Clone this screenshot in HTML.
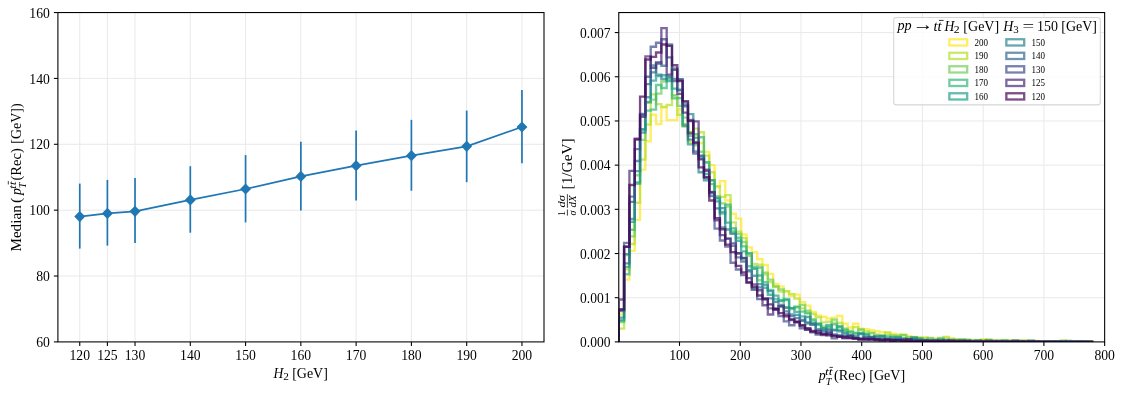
<!DOCTYPE html>
<html lang="en">
<head>
<meta charset="utf-8">
<title>Median pT and pT distributions</title>
<style>
html, body { margin: 0; padding: 0; background: #fff; }
body { width: 1123px; height: 393px; overflow: hidden; font-family: "Liberation Serif", "DejaVu Serif", serif; }
svg text { white-space: pre; }
</style>
</head>
<body>
<svg width="1123" height="393" viewBox="0 0 1123 393" font-family='"Liberation Serif", "DejaVu Serif", serif' fill="#000" style="display:block">
<g id="left-plot">
<line x1="79.75" y1="12.55" x2="79.75" y2="341.9" stroke="#e9e9e9" stroke-width="1"/>
<line x1="107.39" y1="12.55" x2="107.39" y2="341.9" stroke="#e9e9e9" stroke-width="1"/>
<line x1="135.03" y1="12.55" x2="135.03" y2="341.9" stroke="#e9e9e9" stroke-width="1"/>
<line x1="190.3" y1="12.55" x2="190.3" y2="341.9" stroke="#e9e9e9" stroke-width="1"/>
<line x1="245.57" y1="12.55" x2="245.57" y2="341.9" stroke="#e9e9e9" stroke-width="1"/>
<line x1="300.85" y1="12.55" x2="300.85" y2="341.9" stroke="#e9e9e9" stroke-width="1"/>
<line x1="356.12" y1="12.55" x2="356.12" y2="341.9" stroke="#e9e9e9" stroke-width="1"/>
<line x1="411.4" y1="12.55" x2="411.4" y2="341.9" stroke="#e9e9e9" stroke-width="1"/>
<line x1="466.68" y1="12.55" x2="466.68" y2="341.9" stroke="#e9e9e9" stroke-width="1"/>
<line x1="521.95" y1="12.55" x2="521.95" y2="341.9" stroke="#e9e9e9" stroke-width="1"/>
<line x1="57.9" y1="276.03" x2="544" y2="276.03" stroke="#e9e9e9" stroke-width="1"/>
<line x1="57.9" y1="210.16" x2="544" y2="210.16" stroke="#e9e9e9" stroke-width="1"/>
<line x1="57.9" y1="144.29" x2="544" y2="144.29" stroke="#e9e9e9" stroke-width="1"/>
<line x1="57.9" y1="78.42" x2="544" y2="78.42" stroke="#e9e9e9" stroke-width="1"/>
<line x1="79.75" y1="183.6" x2="79.75" y2="248.6" stroke="#1f77b4" stroke-width="1.7"/>
<line x1="107.39" y1="179.9" x2="107.39" y2="245.6" stroke="#1f77b4" stroke-width="1.7"/>
<line x1="135.03" y1="178.1" x2="135.03" y2="243.1" stroke="#1f77b4" stroke-width="1.7"/>
<line x1="190.3" y1="166.2" x2="190.3" y2="232.7" stroke="#1f77b4" stroke-width="1.7"/>
<line x1="245.57" y1="155.1" x2="245.57" y2="222.4" stroke="#1f77b4" stroke-width="1.7"/>
<line x1="300.85" y1="141.8" x2="300.85" y2="210.5" stroke="#1f77b4" stroke-width="1.7"/>
<line x1="356.12" y1="130.5" x2="356.12" y2="200.5" stroke="#1f77b4" stroke-width="1.7"/>
<line x1="411.4" y1="119.85" x2="411.4" y2="190.75" stroke="#1f77b4" stroke-width="1.7"/>
<line x1="466.68" y1="110.6" x2="466.68" y2="182.2" stroke="#1f77b4" stroke-width="1.7"/>
<line x1="521.95" y1="89.9" x2="521.95" y2="163.3" stroke="#1f77b4" stroke-width="1.7"/>
<polyline fill="none" stroke="#1f77b4" stroke-width="1.75" stroke-linejoin="round" points="79.75,216.6 107.39,213.4 135.03,211.3 190.3,199.9 245.57,189 300.85,176.4 356.12,165.7 411.4,155.65 466.68,146.3 521.95,127"/>
<path d="M79.75 211L85.24 216.6L79.75 222.2L74.26 216.6Z" fill="#1f77b4"/>
<path d="M107.39 207.8L112.88 213.4L107.39 219L101.9 213.4Z" fill="#1f77b4"/>
<path d="M135.03 205.7L140.51 211.3L135.03 216.9L129.54 211.3Z" fill="#1f77b4"/>
<path d="M190.3 194.3L195.79 199.9L190.3 205.5L184.81 199.9Z" fill="#1f77b4"/>
<path d="M245.57 183.4L251.06 189L245.57 194.6L240.09 189Z" fill="#1f77b4"/>
<path d="M300.85 170.8L306.34 176.4L300.85 182L295.36 176.4Z" fill="#1f77b4"/>
<path d="M356.12 160.1L361.61 165.7L356.12 171.3L350.64 165.7Z" fill="#1f77b4"/>
<path d="M411.4 150.05L416.89 155.65L411.4 161.25L405.91 155.65Z" fill="#1f77b4"/>
<path d="M466.68 140.7L472.16 146.3L466.68 151.9L461.19 146.3Z" fill="#1f77b4"/>
<path d="M521.95 121.4L527.44 127L521.95 132.6L516.46 127Z" fill="#1f77b4"/>
<rect x="57.9" y="12.55" width="486.1" height="329.35" fill="none" stroke="#000" stroke-width="1.08"/>
<line x1="79.75" y1="341.9" x2="79.75" y2="345.9" stroke="#000" stroke-width="1.08"/>
<text x="79.75" y="359.8" font-size="14.6" text-anchor="middle" textLength="20.5" lengthAdjust="spacingAndGlyphs">120</text>
<line x1="107.39" y1="341.9" x2="107.39" y2="345.9" stroke="#000" stroke-width="1.08"/>
<text x="107.39" y="359.8" font-size="14.6" text-anchor="middle" textLength="20.5" lengthAdjust="spacingAndGlyphs">125</text>
<line x1="135.03" y1="341.9" x2="135.03" y2="345.9" stroke="#000" stroke-width="1.08"/>
<text x="135.03" y="359.8" font-size="14.6" text-anchor="middle" textLength="20.5" lengthAdjust="spacingAndGlyphs">130</text>
<line x1="190.3" y1="341.9" x2="190.3" y2="345.9" stroke="#000" stroke-width="1.08"/>
<text x="190.3" y="359.8" font-size="14.6" text-anchor="middle" textLength="20.5" lengthAdjust="spacingAndGlyphs">140</text>
<line x1="245.57" y1="341.9" x2="245.57" y2="345.9" stroke="#000" stroke-width="1.08"/>
<text x="245.57" y="359.8" font-size="14.6" text-anchor="middle" textLength="20.5" lengthAdjust="spacingAndGlyphs">150</text>
<line x1="300.85" y1="341.9" x2="300.85" y2="345.9" stroke="#000" stroke-width="1.08"/>
<text x="300.85" y="359.8" font-size="14.6" text-anchor="middle" textLength="20.5" lengthAdjust="spacingAndGlyphs">160</text>
<line x1="356.12" y1="341.9" x2="356.12" y2="345.9" stroke="#000" stroke-width="1.08"/>
<text x="356.12" y="359.8" font-size="14.6" text-anchor="middle" textLength="20.5" lengthAdjust="spacingAndGlyphs">170</text>
<line x1="411.4" y1="341.9" x2="411.4" y2="345.9" stroke="#000" stroke-width="1.08"/>
<text x="411.4" y="359.8" font-size="14.6" text-anchor="middle" textLength="20.5" lengthAdjust="spacingAndGlyphs">180</text>
<line x1="466.68" y1="341.9" x2="466.68" y2="345.9" stroke="#000" stroke-width="1.08"/>
<text x="466.68" y="359.8" font-size="14.6" text-anchor="middle" textLength="20.5" lengthAdjust="spacingAndGlyphs">190</text>
<line x1="521.95" y1="341.9" x2="521.95" y2="345.9" stroke="#000" stroke-width="1.08"/>
<text x="521.95" y="359.8" font-size="14.6" text-anchor="middle" textLength="20.5" lengthAdjust="spacingAndGlyphs">200</text>
<line x1="57.9" y1="341.9" x2="53.9" y2="341.9" stroke="#000" stroke-width="1.08"/>
<text x="49.85" y="347.1" font-size="14.6" text-anchor="end" textLength="13.7" lengthAdjust="spacingAndGlyphs">60</text>
<line x1="57.9" y1="276.03" x2="53.9" y2="276.03" stroke="#000" stroke-width="1.08"/>
<text x="49.85" y="281.23" font-size="14.6" text-anchor="end" textLength="13.7" lengthAdjust="spacingAndGlyphs">80</text>
<line x1="57.9" y1="210.16" x2="53.9" y2="210.16" stroke="#000" stroke-width="1.08"/>
<text x="49.85" y="215.36" font-size="14.6" text-anchor="end" textLength="20.5" lengthAdjust="spacingAndGlyphs">100</text>
<line x1="57.9" y1="144.29" x2="53.9" y2="144.29" stroke="#000" stroke-width="1.08"/>
<text x="49.85" y="149.49" font-size="14.6" text-anchor="end" textLength="20.5" lengthAdjust="spacingAndGlyphs">120</text>
<line x1="57.9" y1="78.42" x2="53.9" y2="78.42" stroke="#000" stroke-width="1.08"/>
<text x="49.85" y="83.62" font-size="14.6" text-anchor="end" textLength="20.5" lengthAdjust="spacingAndGlyphs">140</text>
<line x1="57.9" y1="12.55" x2="53.9" y2="12.55" stroke="#000" stroke-width="1.08"/>
<text x="49.85" y="17.75" font-size="14.6" text-anchor="end" textLength="20.5" lengthAdjust="spacingAndGlyphs">160</text>
<text x="273.55" y="377.9" font-size="14.6" font-style="italic" textLength="9.84" lengthAdjust="spacingAndGlyphs">H</text>
<text x="283.21" y="380.2" font-size="9.9" textLength="5.61" lengthAdjust="spacingAndGlyphs">2</text>
<text x="292.16" y="377.9" font-size="14.6" textLength="35.67" lengthAdjust="spacingAndGlyphs">[GeV]</text>
<g transform="translate(20.9 251.15) rotate(-90)">
<text x="-0.44" y="0" font-size="14.6" textLength="46.32" lengthAdjust="spacingAndGlyphs">Median</text>
<text x="48.2" y="0" font-size="14.6" textLength="5.32" lengthAdjust="spacingAndGlyphs">(</text>
<text x="56.05" y="0" font-size="14.6" font-style="italic" textLength="6.81" lengthAdjust="spacingAndGlyphs">p</text>
<text x="62.26" y="-4.7" font-size="10.4" font-style="italic" textLength="7.47" lengthAdjust="spacingAndGlyphs">tt</text>
<line x1="66.7" y1="-12.6" x2="70.1" y2="-12.6" stroke="#000" stroke-width="0.75"/>
<text x="62.92" y="4.8" font-size="9.5" font-style="italic" textLength="5.77" lengthAdjust="spacingAndGlyphs">T</text>
<text x="70.66" y="0" font-size="14.6" textLength="32.28" lengthAdjust="spacingAndGlyphs">(Rec)</text>
<text x="107.52" y="0" font-size="14.6" textLength="40.2" lengthAdjust="spacingAndGlyphs">[GeV])</text>
</g>
</g>
<g id="right-plot">
<line x1="679.5" y1="12.55" x2="679.5" y2="341.9" stroke="#e9e9e9" stroke-width="1"/>
<line x1="740.24" y1="12.55" x2="740.24" y2="341.9" stroke="#e9e9e9" stroke-width="1"/>
<line x1="800.97" y1="12.55" x2="800.97" y2="341.9" stroke="#e9e9e9" stroke-width="1"/>
<line x1="861.71" y1="12.55" x2="861.71" y2="341.9" stroke="#e9e9e9" stroke-width="1"/>
<line x1="922.44" y1="12.55" x2="922.44" y2="341.9" stroke="#e9e9e9" stroke-width="1"/>
<line x1="983.18" y1="12.55" x2="983.18" y2="341.9" stroke="#e9e9e9" stroke-width="1"/>
<line x1="1043.91" y1="12.55" x2="1043.91" y2="341.9" stroke="#e9e9e9" stroke-width="1"/>
<line x1="618.77" y1="297.71" x2="1104.65" y2="297.71" stroke="#e9e9e9" stroke-width="1"/>
<line x1="618.77" y1="253.52" x2="1104.65" y2="253.52" stroke="#e9e9e9" stroke-width="1"/>
<line x1="618.77" y1="209.33" x2="1104.65" y2="209.33" stroke="#e9e9e9" stroke-width="1"/>
<line x1="618.77" y1="165.14" x2="1104.65" y2="165.14" stroke="#e9e9e9" stroke-width="1"/>
<line x1="618.77" y1="120.95" x2="1104.65" y2="120.95" stroke="#e9e9e9" stroke-width="1"/>
<line x1="618.77" y1="76.76" x2="1104.65" y2="76.76" stroke="#e9e9e9" stroke-width="1"/>
<line x1="618.77" y1="32.57" x2="1104.65" y2="32.57" stroke="#e9e9e9" stroke-width="1"/>
<clipPath id="c2"><rect x="618.77" y="12.55" width="485.88" height="329.35"/></clipPath>
<g clip-path="url(#c2)" fill="none" stroke-width="2.35" stroke-opacity="0.7" stroke-linejoin="miter">
<path stroke="#fde725" d="M618.77 341.9V314.5H624.09V279.59H629.42V250.87H634.74V219.94H640.06V169.56H645.38V141.28H650.71V114.76H656.03V124.04H661.35V107.69H666.68V120.07H672V120.07H677.32V109.46H682.64V124.04H687.97V132H693.29V136.42H698.61V143.04H703.94V151.88H709.26V165.14H714.58V187.23H719.9V181.05H725.23V200.49H730.55V213.75H735.87V218.61H741.2V234.52H746.52V247.33H751.84V252.19H757.16V259.26H762.49V265.01H767.81V273.85H773.13V284.01H778.46V286.66H783.78V291.52H789.1V295.94H794.42V294.62H799.75V302.13H805.07V305.66H810.39V311.85H815.72V315.39H821.04V316.71H826.36V318.48H831.68V317.6H837.01V315.83H842.33V323.78H847.65V327.54H852.98V323.78H858.3V328.64H863.62V329.08H868.94V330.19H874.27V331.29H879.59V332.18H884.91V333.06H890.23V333.72H895.56V334.39H900.88V335.27H906.2V336.16H911.53V337.04H916.85V337.48H922.17V337.92H927.49V338.14H932.82V338.36H938.14V338.59H943.46V338.14H948.79V338.14H954.11V339.25H959.43V339.47H964.75V339.69H970.08V339.91H975.4V340.13H980.72V339.25H986.05V339.91H991.37V340.35H996.69V340.46H1002.01V340.56H1007.34V340.66H1012.66V340.74H1017.98V340.82H1023.31V340.9H1028.63V340.97H1033.95V341.03H1039.27V341.1H1044.6V341.15H1049.92V341.2H1055.24V341.25H1060.57V341.3H1065.89V341.34H1071.21V341.38H1076.53V341.42H1081.86V341.45H1087.18V341.48H1092.5V341.9"/>
<path stroke="#b5de2b" d="M618.77 341.9V328.64H624.09V269.23H629.42V244.02H634.74V202.79H640.06V159.49H645.38V124.49H650.71V94.44H656.03V104.16H661.35V106.81H666.68V105.04H672V96.2H677.32V114.7H682.64V126.27H687.97V142.29H693.29V128.64H698.61V132.2H703.94V155.64H709.26V172.25H714.58V186.19H719.9V196.86H725.23V195.19H730.55V222.37H735.87V231.56H741.2V238.09H746.52V253.81H751.84V263.89H757.16V264.78H762.49V274.57H767.81V281.99H773.13V286.73H778.46V291.48H783.78V291.18H789.1V294.15H794.42V298.6H799.75V308.38H805.07V312.83H810.39V314.02H815.72V317.28H821.04V322.32H826.36V321.73H831.68V322.62H837.01V322.92H842.33V330.63H847.65V330.63H852.98V327.07H858.3V329.74H863.62V331.22H868.94V333.3H874.27V335.67H879.59V335.97H884.91V332.41H890.23V335.97H895.56V336.56H900.88V334.78H906.2V337.15H911.53V337.15H916.85V337.75H922.17V337.75H927.49V341.01H932.82V340.42H938.14V339.23H943.46V336.86H948.79V340.42H954.11V339.23H959.43V339.23H964.75V341.01H970.08V341.31H975.4V341.01H980.72V340.12H986.05V339.53H991.37V340.71H996.69V340.42H1002.01V340.12H1007.34V340.42H1012.66V341.01H1017.98V340.42H1023.31V340.71H1028.63V341.31H1033.95V341.6H1039.27V341.6H1044.6V341.9H1049.92V341.6H1055.24V341.31H1060.57V340.42H1065.89V341.9H1071.21V341.9H1076.53V341.9H1081.86V341.6H1087.18V341.9H1092.5V341.9"/>
<path stroke="#6ece58" d="M618.77 341.9V322.01H624.09V255H629.42V236.31H634.74V175.21H640.06V139.92H645.38V102.54H650.71V99.58H656.03V93.65H661.35V81.49H666.68V77.33H672V95.13H677.32V105.81H682.64V117.67H687.97V132.2H693.29V145.25H698.61V151.78H703.94V162.16H709.26V180.25H714.58V196.27H719.9V203.39H725.23V206.65H730.55V231.27H735.87V233.94H741.2V241.95H746.52V255.89H751.84V268.05H757.16V280.21H762.49V272.79H767.81V279.61H773.13V286.44H778.46V289.4H783.78V307.2H789.1V308.98H794.42V306.31H799.75V304.83H805.07V310.76H810.39V319.06H815.72V323.51H821.04V326.48H826.36V328.55H831.68V319.66H837.01V326.77H842.33V328.55H847.65V331.52H852.98V333H858.3V329.44H863.62V333.3H868.94V332.71H874.27V334.78H879.59V335.08H884.91V335.37H890.23V335.37H895.56V335.67H900.88V335.08H906.2V337.45H911.53V339.23H916.85V338.34H922.17V339.82H927.49V338.04H932.82V339.23H938.14V338.04H943.46V340.42H948.79V339.53H954.11V340.42H959.43V339.82H964.75V341.01H970.08V340.12H975.4V340.71H980.72V341.6H986.05V340.12H991.37V341.01H996.69V341.9H1002.01V340.42H1007.34V341.31H1012.66V341.01H1017.98V341.01H1023.31V341.01H1028.63V341.31H1033.95V341.31H1039.27V341.31H1044.6V341.6H1049.92V341.9H1055.24V341.31H1060.57V341.31H1065.89V341.6H1071.21V341.6H1076.53V341.6H1081.86V341.6H1087.18V341.9H1092.5V341.9"/>
<path stroke="#35b779" d="M618.77 341.9V321.13H624.09V274.28H629.42V229.79H634.74V183.81H640.06V129.53H645.38V110.55H650.71V109.66H656.03V85.04H661.35V88.01H666.68V79.11H672V98.39H677.32V98.1H682.64V124.49H687.97V135.76H693.29V134.28H698.61V137.25H703.94V162.46H709.26V184.11H714.58V198.64H719.9V213.47H725.23V204.57H730.55V232.75H735.87V237.79H741.2V246.39H746.52V266.27H751.84V266.56H757.16V267.45H762.49V282.28H767.81V290H773.13V299.19H778.46V300.08H783.78V298.89H789.1V308.09H794.42V307.2H799.75V311.65H805.07V313.43H810.39V320.54H815.72V324.7H821.04V328.26H826.36V327.07H831.68V324.4H837.01V329.74H842.33V330.04H847.65V332.11H852.98V333H858.3V333H863.62V334.19H868.94V337.45H874.27V336.56H879.59V336.86H884.91V336.86H890.23V338.34H895.56V336.86H900.88V338.34H906.2V339.53H911.53V338.04H916.85V338.64H922.17V339.82H927.49V340.71H932.82V340.71H938.14V339.23H943.46V340.12H948.79V340.12H954.11V341.01H959.43V340.12H964.75V339.82H970.08V341.31H975.4V340.71H980.72V341.31H986.05V341.01H991.37V341.9H996.69V341.01H1002.01V340.71H1007.34V341.9H1012.66V341.9H1017.98V341.31H1023.31V341.6H1028.63V340.42H1033.95V341.9H1039.27V341.6H1044.6V341.6H1049.92V341.6H1055.24V341.6H1060.57V341.31H1065.89V341.9H1071.21V341.9H1076.53V341.9H1081.86V341.9H1087.18V341.6H1092.5V341.9"/>
<path stroke="#1f9e89" d="M618.77 341.9V319.8H624.09V266.86H629.42V221.78H634.74V182.33H640.06V129.24H645.38V101.95H650.71V80.6H656.03V76.15H661.35V75.26H666.68V81.19H672V88.6H677.32V90.38H682.64V125.98H687.97V144.36H693.29V137.84H698.61V156.53H703.94V174.02H709.26V180.25H714.58V197.75H719.9V211.99H725.23V222.67H730.55V228.3H735.87V240.76H741.2V251.44H746.52V253.22H751.84V268.94H757.16V275.46H762.49V287.92H767.81V294.74H773.13V295.63H778.46V300.97H783.78V300.08H789.1V308.09H794.42V311.94H799.75V316.39H805.07V323.51H810.39V324.1H815.72V323.81H821.04V328.26H826.36V325.29H831.68V329.74H837.01V326.48H842.33V332.41H847.65V335.67H852.98V337.15H858.3V334.19H863.62V335.08H868.94V336.86H874.27V338.64H879.59V338.64H884.91V338.93H890.23V337.15H895.56V337.45H900.88V338.64H906.2V339.53H911.53V337.45H916.85V338.93H922.17V340.12H927.49V340.71H932.82V341.01H938.14V341.01H943.46V341.01H948.79V340.42H954.11V340.42H959.43V341.31H964.75V341.31H970.08V341.31H975.4V340.42H980.72V341.31H986.05V340.71H991.37V341.01H996.69V341.31H1002.01V341.31H1007.34V341.31H1012.66V341.01H1017.98V341.6H1023.31V341.31H1028.63V341.6H1033.95V341.9H1039.27V341.9H1044.6V341.6H1049.92V341.9H1055.24V341.9H1060.57V341.9H1065.89V341.01H1071.21V341.9H1076.53V341.6H1081.86V341.9H1087.18V341.9H1092.5V341.9"/>
<path stroke="#26828e" d="M618.77 341.9V317.6H624.09V254.11H629.42V218.81H634.74V171.06H640.06V132.5H645.38V97.21H650.71V65.47H656.03V74.55H661.35V78.97H666.68V76.76H672V68.36H677.32V89.79H682.64V102.54H687.97V114.11H693.29V141.99H698.61V172.25H703.94V180.25H709.26V191.82H714.58V201.31H719.9V208.13H725.23V229.49H730.55V233.94H735.87V253.22H741.2V257.96H746.52V270.12H751.84V275.76H757.16V284.06H762.49V284.95H767.81V291.18H773.13V308.09H778.46V306.31H783.78V307.79H789.1V314.32H794.42V314.91H799.75V320.84H805.07V316.99H810.39V323.21H815.72V329.15H821.04V330.04H826.36V334.19H831.68V330.33H837.01V331.22H842.33V333.6H847.65V334.78H852.98V335.67H858.3V333.6H863.62V338.93H868.94V339.23H874.27V336.56H879.59V336.26H884.91V339.82H890.23V339.82H895.56V340.12H900.88V339.23H906.2V341.01H911.53V338.93H916.85V340.42H922.17V340.12H927.49V341.01H932.82V340.71H938.14V340.71H943.46V340.42H948.79V341.6H954.11V340.71H959.43V340.42H964.75V341.6H970.08V341.6H975.4V341.31H980.72V341.31H986.05V341.01H991.37V341.6H996.69V341.31H1002.01V341.9H1007.34V341.6H1012.66V341.31H1017.98V341.9H1023.31V341.9H1028.63V341.9H1033.95V341.31H1039.27V341.9H1044.6V341.9H1049.92V341.6H1055.24V341.31H1060.57V341.9H1065.89V341.9H1071.21V341.9H1076.53V341.6H1081.86V341.6H1087.18V341.9H1092.5V341.9"/>
<path stroke="#31688e" d="M618.77 341.9V310.97H624.09V263.3H629.42V196.57H634.74V160.97H640.06V113.81H645.38V84.15H650.71V72.34H656.03V62.18H661.35V65.71H666.68V44.5H672V78.97H677.32V80H682.64V104.92H687.97V139.62H693.29V151.48H698.61V158.6H703.94V177.88H709.26V195.97H714.58V208.43H719.9V227.41H725.23V238.68H730.55V245.8H735.87V257.37H741.2V261.52H746.52V271.31H751.84V288.22H757.16V287.33H762.49V298.6H767.81V298.3H773.13V301.86H778.46V304.83H783.78V311.35H789.1V316.1H794.42V318.17H799.75V319.95H805.07V322.32H810.39V324.7H815.72V330.33H821.04V331.52H826.36V329.74H831.68V334.49H837.01V335.37H842.33V335.97H847.65V335.67H852.98V338.04H858.3V338.64H863.62V337.45H868.94V336.86H874.27V340.12H879.59V340.42H884.91V338.93H890.23V338.93H895.56V338.93H900.88V339.53H906.2V340.71H911.53V339.82H916.85V340.42H922.17V340.42H927.49V339.82H932.82V340.71H938.14V341.31H943.46V339.82H948.79V341.31H954.11V341.6H959.43V341.01H964.75V341.01H970.08V341.31H975.4V341.31H980.72V341.01H986.05V341.31H991.37V341.6H996.69V341.9H1002.01V341.31H1007.34V341.9H1012.66V340.71H1017.98V341.9H1023.31V341.9H1028.63V341.9H1033.95V341.9H1039.27V341.9H1044.6V341.6H1049.92V341.6H1055.24V341.9H1060.57V341.6H1065.89V341.9H1071.21V341.6H1076.53V341.6H1081.86V341.9H1087.18V341.9H1092.5V341.9"/>
<path stroke="#3e4a89" d="M618.77 341.9V310.08H624.09V242.84H629.42V201.91H634.74V149.11H640.06V115H645.38V76.76H650.71V46.71H656.03V42.73H661.35V39.2H666.68V57.32H672V81.18H677.32V79.11H682.64V106.4H687.97V120.04H693.29V153.56H698.61V155.64H703.94V169.58H709.26V193.01H714.58V228.6H719.9V240.46H725.23V246.69H730.55V262.71H735.87V269.53H741.2V275.17H746.52V282.28H751.84V289.7H757.16V299.19H762.49V299.49H767.81V308.38H773.13V309.27H778.46V316.1H783.78V321.43H789.1V325.29H794.42V322.32H799.75V328.26H805.07V329.44H810.39V332.41H815.72V334.49H821.04V335.08H826.36V331.82H831.68V338.34H837.01V336.56H842.33V338.34H847.65V338.34H852.98V338.64H858.3V338.93H863.62V337.45H868.94V338.04H874.27V339.53H879.59V339.53H884.91V340.12H890.23V339.82H895.56V339.53H900.88V340.71H906.2V341.31H911.53V341.6H916.85V341.01H922.17V341.31H927.49V341.01H932.82V340.42H938.14V341.31H943.46V341.6H948.79V340.71H954.11V341.31H959.43V341.6H964.75V341.01H970.08V341.9H975.4V341.9H980.72V341.6H986.05V341.9H991.37V341.31H996.69V341.9H1002.01V341.9H1007.34V341.9H1012.66V341.9H1017.98V341.9H1023.31V341.6H1028.63V341.9H1033.95V341.6H1039.27V341.9H1044.6V341.6H1049.92V341.9H1055.24V341.9H1060.57V341.9H1065.89V341.9H1071.21V341.9H1076.53V341.9H1081.86V341.9H1087.18V341.9H1092.5V341.9"/>
<path stroke="#482878" d="M618.77 341.9V299.48H624.09V246.45H629.42V170.88H634.74V138.63H640.06V116.78H645.38V56.43H650.71V67.92H656.03V63.5H661.35V28.15H666.68V74.55H672V69.92H677.32V93.94H682.64V112.63H687.97V133.32H693.29V121.39H698.61V159.4H703.94V170.76H709.26V192.12H714.58V220.29H719.9V235.12H725.23V238.68H730.55V243.43H735.87V253.22H741.2V258.26H746.52V278.13H751.84V284.36H757.16V290.29H762.49V305.22H767.81V314.5H773.13V309.27H778.46V306.31H783.78V314.32H789.1V319.95H794.42V322.03H799.75V325.88H805.07V329.74H810.39V331.82H815.72V331.22H821.04V333.89H826.36V333.3H831.68V335.37H837.01V335.97H842.33V336.56H847.65V336.26H852.98V338.34H858.3V339.82H863.62V339.82H868.94V339.23H874.27V339.23H879.59V340.42H884.91V339.23H890.23V341.01H895.56V340.12H900.88V340.12H906.2V339.23H911.53V341.31H916.85V341.31H922.17V341.6H927.49V341.6H932.82V341.6H938.14V340.71H943.46V341.6H948.79V341.01H954.11V341.6H959.43V341.31H964.75V341.9H970.08V341.6H975.4V341.6H980.72V341.9H986.05V341.6H991.37V341.9H996.69V341.6H1002.01V341.9H1007.34V341.9H1012.66V341.31H1017.98V341.6H1023.31V341.9H1028.63V341.31H1033.95V341.6H1039.27V341.9H1044.6V341.9H1049.92V341.9H1055.24V341.9H1060.57V341.9H1065.89V341.9H1071.21V341.9H1076.53V341.9H1081.86V341.9H1087.18V341.9H1092.5V341.9"/>
<path stroke="#440154" d="M618.77 341.9V309.2H624.09V246.89H629.42V185.03H634.74V139.51H640.06V96.65H645.38V59.53H650.71V56.87H656.03V52.46H661.35V44.5H666.68V45.83H672V65.27H677.32V81.18H682.64V101.06H687.97V120.95H693.29V143.04H698.61V167.35H703.94V177.07H709.26V200.49H714.58V218.17H719.9V229.22H725.23V244.68H730.55V252.19H735.87V265.89H741.2V272.52H746.52V282.69H751.84V286.66H757.16V295.5H762.49V298.59H767.81V304.34H773.13V309.2H778.46V313.18H783.78V316.27H789.1V319.36H794.42V321.57H799.75V325.11H805.07V328.2H810.39V330.85H815.72V333.06H821.04V334.39H826.36V335.27H831.68V336.16H837.01V336.82H842.33V337.48H847.65V337.92H852.98V338.36H858.3V338.81H863.62V339.12H868.94V339.39H874.27V339.64H879.59V339.87H884.91V340.07H890.23V340.26H895.56V340.42H900.88V340.57H906.2V340.7H911.53V340.82H916.85V340.93H922.17V341.03H927.49V341.11H932.82V341.19H938.14V341.26H943.46V341.33H948.79V341.38H954.11V341.44H959.43V341.48H964.75V341.52H970.08V341.56H975.4V341.6H980.72V341.63H986.05V341.65H991.37V341.68H996.69V341.7H1002.01V341.72H1007.34V341.74H1012.66V341.75H1017.98V341.77H1023.31V341.78H1028.63V341.79H1033.95V341.8H1039.27V341.81H1044.6V341.82H1049.92V341.83H1055.24V341.84H1060.57V341.84H1065.89V341.85H1071.21V341.85H1076.53V341.86H1081.86V341.86H1087.18V341.87H1092.5V341.9"/>
</g>
<rect x="618.77" y="12.55" width="485.88" height="329.35" fill="none" stroke="#000" stroke-width="1.08"/>
<line x1="679.5" y1="341.9" x2="679.5" y2="345.9" stroke="#000" stroke-width="1.08"/>
<text x="679.5" y="359.8" font-size="14.6" text-anchor="middle" textLength="20.5" lengthAdjust="spacingAndGlyphs">100</text>
<line x1="740.24" y1="341.9" x2="740.24" y2="345.9" stroke="#000" stroke-width="1.08"/>
<text x="740.24" y="359.8" font-size="14.6" text-anchor="middle" textLength="20.5" lengthAdjust="spacingAndGlyphs">200</text>
<line x1="800.97" y1="341.9" x2="800.97" y2="345.9" stroke="#000" stroke-width="1.08"/>
<text x="800.97" y="359.8" font-size="14.6" text-anchor="middle" textLength="20.5" lengthAdjust="spacingAndGlyphs">300</text>
<line x1="861.71" y1="341.9" x2="861.71" y2="345.9" stroke="#000" stroke-width="1.08"/>
<text x="861.71" y="359.8" font-size="14.6" text-anchor="middle" textLength="20.5" lengthAdjust="spacingAndGlyphs">400</text>
<line x1="922.44" y1="341.9" x2="922.44" y2="345.9" stroke="#000" stroke-width="1.08"/>
<text x="922.44" y="359.8" font-size="14.6" text-anchor="middle" textLength="20.5" lengthAdjust="spacingAndGlyphs">500</text>
<line x1="983.18" y1="341.9" x2="983.18" y2="345.9" stroke="#000" stroke-width="1.08"/>
<text x="983.18" y="359.8" font-size="14.6" text-anchor="middle" textLength="20.5" lengthAdjust="spacingAndGlyphs">600</text>
<line x1="1043.91" y1="341.9" x2="1043.91" y2="345.9" stroke="#000" stroke-width="1.08"/>
<text x="1043.91" y="359.8" font-size="14.6" text-anchor="middle" textLength="20.5" lengthAdjust="spacingAndGlyphs">700</text>
<line x1="1104.65" y1="341.9" x2="1104.65" y2="345.9" stroke="#000" stroke-width="1.08"/>
<text x="1104.65" y="359.8" font-size="14.6" text-anchor="middle" textLength="20.5" lengthAdjust="spacingAndGlyphs">800</text>
<line x1="618.77" y1="341.9" x2="614.77" y2="341.9" stroke="#000" stroke-width="1.08"/>
<text x="610.4" y="347.1" font-size="14.6" text-anchor="end" textLength="30.4" lengthAdjust="spacingAndGlyphs">0.000</text>
<line x1="618.77" y1="297.71" x2="614.77" y2="297.71" stroke="#000" stroke-width="1.08"/>
<text x="610.4" y="302.91" font-size="14.6" text-anchor="end" textLength="30.4" lengthAdjust="spacingAndGlyphs">0.001</text>
<line x1="618.77" y1="253.52" x2="614.77" y2="253.52" stroke="#000" stroke-width="1.08"/>
<text x="610.4" y="258.72" font-size="14.6" text-anchor="end" textLength="30.4" lengthAdjust="spacingAndGlyphs">0.002</text>
<line x1="618.77" y1="209.33" x2="614.77" y2="209.33" stroke="#000" stroke-width="1.08"/>
<text x="610.4" y="214.53" font-size="14.6" text-anchor="end" textLength="30.4" lengthAdjust="spacingAndGlyphs">0.003</text>
<line x1="618.77" y1="165.14" x2="614.77" y2="165.14" stroke="#000" stroke-width="1.08"/>
<text x="610.4" y="170.34" font-size="14.6" text-anchor="end" textLength="30.4" lengthAdjust="spacingAndGlyphs">0.004</text>
<line x1="618.77" y1="120.95" x2="614.77" y2="120.95" stroke="#000" stroke-width="1.08"/>
<text x="610.4" y="126.15" font-size="14.6" text-anchor="end" textLength="30.4" lengthAdjust="spacingAndGlyphs">0.005</text>
<line x1="618.77" y1="76.76" x2="614.77" y2="76.76" stroke="#000" stroke-width="1.08"/>
<text x="610.4" y="81.96" font-size="14.6" text-anchor="end" textLength="30.4" lengthAdjust="spacingAndGlyphs">0.006</text>
<line x1="618.77" y1="32.57" x2="614.77" y2="32.57" stroke="#000" stroke-width="1.08"/>
<text x="610.4" y="37.77" font-size="14.6" text-anchor="end" textLength="30.4" lengthAdjust="spacingAndGlyphs">0.007</text>
<text x="818.81" y="380" font-size="14.6" font-style="italic" textLength="6.91" lengthAdjust="spacingAndGlyphs">p</text>
<text x="825.05" y="375.3" font-size="10.4" font-style="italic" textLength="7.58" lengthAdjust="spacingAndGlyphs">tt</text>
<line x1="829.5" y1="367.4" x2="832.9" y2="367.4" stroke="#000" stroke-width="0.75"/>
<text x="825.72" y="384.8" font-size="9.5" font-style="italic" textLength="5.77" lengthAdjust="spacingAndGlyphs">T</text>
<text x="834.07" y="380" font-size="14.6" textLength="31.76" lengthAdjust="spacingAndGlyphs">(Rec)</text>
<text x="869.26" y="380" font-size="14.6" textLength="35.89" lengthAdjust="spacingAndGlyphs">[GeV]</text>
<g transform="translate(572.0 215.6) rotate(-90)">
<text x="-0.12" y="-6.6" font-size="10" textLength="4.69" lengthAdjust="spacingAndGlyphs">1</text>
<line x1="0" y1="-4.6" x2="6.1" y2="-4.6" stroke="#000" stroke-width="0.75"/>
<text x="0.21" y="4.1" font-size="10" font-style="italic" textLength="4.88" lengthAdjust="spacingAndGlyphs">σ</text>
<text x="8.13" y="-6.6" font-size="10" font-style="italic" textLength="12.28" lengthAdjust="spacingAndGlyphs">dσ</text>
<line x1="7.8" y1="-4.6" x2="21.4" y2="-4.6" stroke="#000" stroke-width="0.75"/>
<text x="8.17" y="4.1" font-size="10" font-style="italic" textLength="12.08" lengthAdjust="spacingAndGlyphs">dX</text>
<text x="26.11" y="0" font-size="14.6" textLength="51.23" lengthAdjust="spacingAndGlyphs">[1/GeV]</text>
</g>
<rect x="893.7" y="17.45" width="206.6" height="87.4" rx="2.6" ry="2.6" fill="#fff" fill-opacity="0.8" stroke="#ccc" stroke-opacity="0.8" stroke-width="1.05"/>
<text x="897.53" y="30.4" font-size="14.6" font-style="italic" textLength="14.2" lengthAdjust="spacingAndGlyphs">pp</text>
<text x="912.56" y="29.8" font-size="17.5" textLength="20.78" lengthAdjust="spacingAndGlyphs">→</text>
<text x="933.56" y="30.5" font-size="15.4" font-style="italic" textLength="8.15" lengthAdjust="spacingAndGlyphs">tt</text>
<line x1="939.0" y1="20.4" x2="943.6" y2="20.4" stroke="#000" stroke-width="0.8"/>
<text x="944.45" y="30.5" font-size="14.6" font-style="italic" textLength="9.84" lengthAdjust="spacingAndGlyphs">H</text>
<text x="953.88" y="32.9" font-size="9.9" textLength="5.86" lengthAdjust="spacingAndGlyphs">2</text>
<text x="963.36" y="30.5" font-size="14.6" textLength="35.78" lengthAdjust="spacingAndGlyphs">[GeV]</text>
<text x="1003.15" y="30.5" font-size="14.6" font-style="italic" textLength="10.03" lengthAdjust="spacingAndGlyphs">H</text>
<text x="1013.38" y="32.9" font-size="9.9" textLength="5.45" lengthAdjust="spacingAndGlyphs">3</text>
<text x="1022.47" y="30.5" font-size="14.6" textLength="11.63" lengthAdjust="spacingAndGlyphs">=</text>
<text x="1036.97" y="30.5" font-size="14.6" textLength="20.96" lengthAdjust="spacingAndGlyphs">150</text>
<text x="1061.26" y="30.5" font-size="14.6" textLength="35.67" lengthAdjust="spacingAndGlyphs">[GeV]</text>
<g fill="none" stroke-width="2.3" stroke-opacity="0.7">
<rect x="949.35" y="39.25" width="17.85" height="6.25" stroke="#fde725"/>
<rect x="949.35" y="52.75" width="17.85" height="6.25" stroke="#b5de2b"/>
<rect x="949.35" y="66.25" width="17.85" height="6.25" stroke="#6ece58"/>
<rect x="949.35" y="79.75" width="17.85" height="6.25" stroke="#35b779"/>
<rect x="949.35" y="93.25" width="17.85" height="6.25" stroke="#1f9e89"/>
<rect x="1006.35" y="39.25" width="17.85" height="6.25" stroke="#26828e"/>
<rect x="1006.35" y="52.75" width="17.85" height="6.25" stroke="#31688e"/>
<rect x="1006.35" y="66.25" width="17.85" height="6.25" stroke="#3e4a89"/>
<rect x="1006.35" y="79.75" width="17.85" height="6.25" stroke="#482878"/>
<rect x="1006.35" y="93.25" width="17.85" height="6.25" stroke="#440154"/>
</g>
<text x="974.4" y="45.7" font-size="9.3" text-anchor="start" textLength="13.5" lengthAdjust="spacingAndGlyphs">200</text>
<text x="974.4" y="59.2" font-size="9.3" text-anchor="start" textLength="13.5" lengthAdjust="spacingAndGlyphs">190</text>
<text x="974.4" y="72.7" font-size="9.3" text-anchor="start" textLength="13.5" lengthAdjust="spacingAndGlyphs">180</text>
<text x="974.4" y="86.2" font-size="9.3" text-anchor="start" textLength="13.5" lengthAdjust="spacingAndGlyphs">170</text>
<text x="974.4" y="99.7" font-size="9.3" text-anchor="start" textLength="13.5" lengthAdjust="spacingAndGlyphs">160</text>
<text x="1031.6" y="45.7" font-size="9.3" text-anchor="start" textLength="13.5" lengthAdjust="spacingAndGlyphs">150</text>
<text x="1031.6" y="59.2" font-size="9.3" text-anchor="start" textLength="13.5" lengthAdjust="spacingAndGlyphs">140</text>
<text x="1031.6" y="72.7" font-size="9.3" text-anchor="start" textLength="13.5" lengthAdjust="spacingAndGlyphs">130</text>
<text x="1031.6" y="86.2" font-size="9.3" text-anchor="start" textLength="13.5" lengthAdjust="spacingAndGlyphs">125</text>
<text x="1031.6" y="99.7" font-size="9.3" text-anchor="start" textLength="13.5" lengthAdjust="spacingAndGlyphs">120</text>
</g>
</svg>
</body>
</html>
